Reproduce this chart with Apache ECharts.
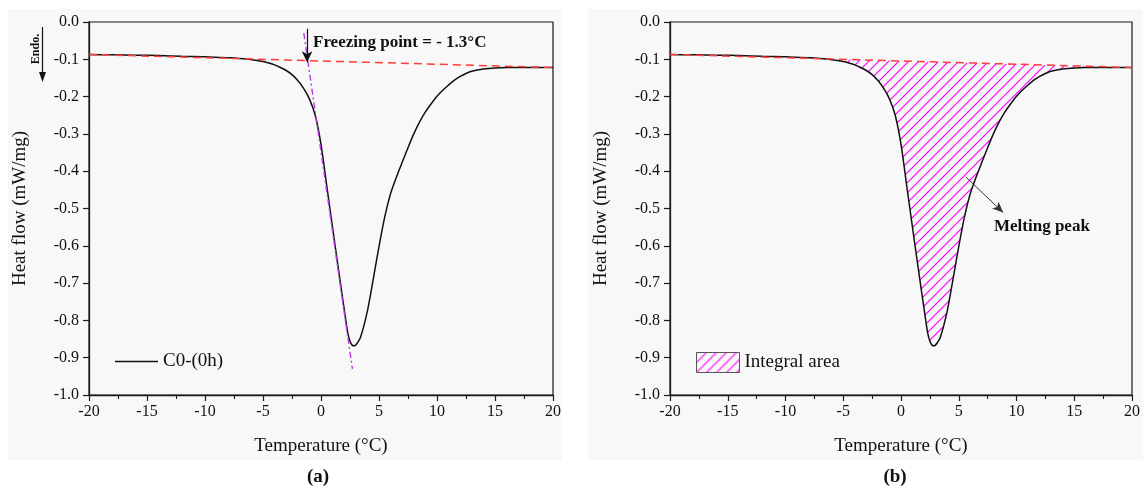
<!DOCTYPE html>
<html>
<head>
<meta charset="utf-8">
<script src="https://cdn.jsdelivr.net/npm/echarts@6/dist/echarts.min.js"></script>
<style>
  html, body { margin: 0; padding: 0; background: #ffffff; }
  #chart { width: 1143px; height: 491px; }
</style>
</head>
<body>
<div id="chart"></div>
<script>
// DSC scan of sample C0-(0h): temperature (°C) and heat flow (mW/mg)
const temperature = [-20, -18, -16, -14, -12, -10, -8, -7, -6, -5, -4.5, -4, -3.5, -3, -2.5, -2, -1.5, -1, -0.5,
  0, 0.5, 1, 1.5, 2, 2.3, 2.5, 2.7, 2.9, 3.1, 3.4, 4, 4.5, 5, 5.5, 6, 6.5, 7, 7.5, 8, 8.5, 9, 9.5, 10,
  10.5, 11, 11.5, 12, 12.5, 13, 14, 15, 16, 17, 18, 19, 20];
const heatFlow = [-0.087, -0.088, -0.089, -0.090, -0.092, -0.093, -0.096, -0.098, -0.101, -0.106, -0.110, -0.115,
  -0.122, -0.130, -0.141, -0.157, -0.178, -0.206, -0.250,
  -0.328, -0.440, -0.552, -0.662, -0.770, -0.832, -0.856, -0.867, -0.868, -0.862, -0.846, -0.775, -0.690, -0.602,
  -0.522, -0.460, -0.416, -0.376, -0.337, -0.300, -0.268, -0.241, -0.219, -0.199,
  -0.183, -0.169, -0.156, -0.146, -0.138, -0.132, -0.126, -0.123, -0.122, -0.122, -0.122, -0.122, -0.122];

// Linear baseline drawn under the peak
const baselineT = [-20, 20];
const baselineV = [-0.087, -0.122];

// Tangent to the leading edge of the peak (onset construction)
const tangentT = [-1.48, 2.71];
const tangentV = [-0.03, -0.93];

// Arrow marking the onset (freezing point)
const onsetArrowT = [-1.2, -1.2];
const onsetArrowV = [-0.018, -0.108];

// Arrow pointing at the melting peak
const peakArrowT = [5.6, 8.85];
const peakArrowV = [-0.415, -0.511];

// Axis ranges and tick steps
const xRange = [-20, 20];
const xStep = 5;
const yRange = [-1.0, 0.0];
const yStep = 0.1;

const FONT = "'Liberation Serif', 'Times New Roman', serif";

function baselineAt(t) {
  const f = (t - baselineT[0]) / (baselineT[1] - baselineT[0]);
  return baselineV[0] + f * (baselineV[1] - baselineV[0]);
}

// Diagonal magenta hatch used for the integrated area
function makeHatch() {
  const s = 10;
  const c = document.createElement('canvas');
  c.width = s; c.height = s;
  const g = c.getContext('2d');
  g.strokeStyle = '#ff00ff';
  g.lineWidth = 1.2;
  g.beginPath();
  g.moveTo(-2, s + 2); g.lineTo(s + 2, -2);
  g.moveTo(-2, 2); g.lineTo(2, -2);
  g.moveTo(s - 2, s + 2); g.lineTo(s + 2, s - 2);
  g.stroke();
  return { image: c, repeat: 'repeat' };
}
const hatch = makeHatch();

const curve = temperature.map((t, i) => [t, heatFlow[i]]);
const baseline = baselineT.map((t, i) => [t, baselineV[i]]);
const tangent = tangentT.map((t, i) => [t, tangentV[i]]);

function xAxis(gridIndex) {
  return {
    type: 'value', gridIndex, min: xRange[0], max: xRange[1], interval: xStep,
    name: 'Temperature (°C)', nameLocation: 'middle', nameGap: 42,
    nameTextStyle: { fontFamily: FONT, fontSize: 19, color: '#111' },
    axisLine: { onZero: false, lineStyle: { color: '#1a1a1a', width: 1.3 } },
    axisTick: { length: 6, lineStyle: { color: '#1a1a1a', width: 1.2 } },
    minorTick: { show: true, splitNumber: 2, length: 4, lineStyle: { color: '#1a1a1a', width: 1.1 } },
    axisLabel: { fontFamily: FONT, fontSize: 16, color: '#111', margin: 9 },
    splitLine: { show: false }
  };
}
function yAxis(gridIndex) {
  return {
    type: 'value', gridIndex, min: yRange[0], max: yRange[1], interval: yStep,
    name: 'Heat flow (mW/mg)', nameLocation: 'middle', nameGap: 59,
    nameTextStyle: { fontFamily: FONT, fontSize: 19, color: '#111' },
    axisLine: { onZero: false, lineStyle: { color: '#1a1a1a', width: 1.3 } },
    axisTick: { length: 6, lineStyle: { color: '#1a1a1a', width: 1.2 } },
    axisLabel: { fontFamily: FONT, fontSize: 16, color: '#111', margin: 10,
      formatter: v => v.toFixed(1) },
    splitLine: { show: false }
  };
}

const grid = { show: true, borderColor: '#1a1a1a', borderWidth: 1.2, backgroundColor: 'transparent' };

const chart = echarts.init(document.getElementById('chart'), null, { renderer: 'canvas' });
chart.setOption({
  animation: false,
  backgroundColor: '#ffffff',
  grid: [
    Object.assign({ left: 89, top: 22, width: 464, height: 373 }, grid),
    Object.assign({ left: 670, top: 22, width: 463, height: 373 }, grid)
  ],
  xAxis: [xAxis(0), xAxis(1)],
  yAxis: [yAxis(0), yAxis(1)],
  legend: [
    {
      left: 115, top: 352, padding: 0, itemWidth: 43, itemHeight: 1.6, itemGap: 5,
      textStyle: { fontFamily: FONT, fontSize: 19, color: '#111' },
      data: [{ name: 'C0-(0h)', icon: 'rect', itemStyle: { color: '#111', borderWidth: 0 } }]
    },
    {
      left: 696, top: 352, padding: 0, itemWidth: 43, itemHeight: 20, itemGap: 5,
      textStyle: { fontFamily: FONT, fontSize: 19, color: '#111' },
      data: [{ name: 'Integral area', icon: 'rect',
        itemStyle: { color: hatch, borderColor: '#555', borderWidth: 1 } }]
    }
  ],
  graphic: [
    // light panel backgrounds
    { type: 'rect', z: -10, shape: { x: 8, y: 9, width: 554, height: 451 }, style: { fill: '#f8f8f8' } },
    { type: 'rect', z: -10, shape: { x: 588, y: 9, width: 555, height: 451 }, style: { fill: '#f8f8f8' } },
    // panel labels
    { type: 'text', x: 318, y: 477, style: { text: '(a)', font: 'bold 19px ' + FONT, fill: '#111',
      align: 'center', verticalAlign: 'middle' } },
    { type: 'text', x: 895, y: 477, style: { text: '(b)', font: 'bold 19px ' + FONT, fill: '#111',
      align: 'center', verticalAlign: 'middle' } },
    // endotherm direction marker
    { type: 'text', x: 36, y: 49, rotation: Math.PI / 2, style: { text: 'Endo.', font: 'bold 12px ' + FONT,
      fill: '#111', align: 'center', verticalAlign: 'middle' } },
    { type: 'line', shape: { x1: 42.5, y1: 27, x2: 42.5, y2: 74 }, style: { stroke: '#111', lineWidth: 1.2 } },
    { type: 'polygon', shape: { points: [[39, 72], [46, 72], [42.5, 82]] }, style: { fill: '#111' } },
    // annotations
    { type: 'text', x: 313, y: 43, style: { text: 'Freezing point = - 1.3°C', font: 'bold 17px ' + FONT,
      fill: '#111', align: 'left', verticalAlign: 'middle' } },
    { type: 'text', x: 994, y: 227, style: { text: 'Melting peak', font: 'bold 17px ' + FONT,
      fill: '#111', align: 'left', verticalAlign: 'middle' } }
  ],
  series: [
    // (a) onset construction
    {
      name: 'Baseline (a)', type: 'line', xAxisIndex: 0, yAxisIndex: 0, data: baseline,
      symbol: 'none', z: 3, lineStyle: { color: '#ff3b3b', width: 1.5, type: [8, 5] }
    },
    {
      name: 'C0-(0h)', type: 'line', xAxisIndex: 0, yAxisIndex: 0, data: curve,
      symbol: 'none', smooth: 0.25, z: 2,
      lineStyle: { color: '#111', width: 1.5 }, itemStyle: { color: '#111' }
    },
    {
      name: 'Tangent', type: 'line', xAxisIndex: 0, yAxisIndex: 0, data: tangent,
      symbol: 'none', z: 4, lineStyle: { color: '#b43cdc', width: 1.4, type: [6, 3, 2, 3] },
      markLine: {
        silent: true, symbol: ['none', 'arrow'], symbolSize: [8, 11],
        label: { show: false },
        lineStyle: { color: '#111', width: 1.2, type: 'solid' },
        data: [[{ coord: [onsetArrowT[0], onsetArrowV[0]] }, { coord: [onsetArrowT[1], onsetArrowV[1]] }]]
      }
    },
    // (b) integrated peak area
    {
      name: 'Integral area', type: 'custom', xAxisIndex: 1, yAxisIndex: 1, z: 1,
      itemStyle: { color: hatch },
      data: [[0, 0]],
      renderItem: function (params, api) {
        const pts = [];
        const ts = temperature.filter(t => t >= -8);
        ts.forEach(t => pts.push(api.coord([t, heatFlow[temperature.indexOf(t)]])));
        ts.slice().reverse().forEach(t => pts.push(api.coord([t, baselineAt(t)])));
        return { type: 'polygon', shape: { points: pts, smooth: 0 }, style: { fill: hatch, stroke: null } };
      }
    },
    {
      name: 'Curve (b)', type: 'line', xAxisIndex: 1, yAxisIndex: 1, data: curve,
      symbol: 'none', smooth: 0.25, z: 2,
      lineStyle: { color: '#111', width: 1.5 },
      markLine: {
        silent: true, symbol: ['none', 'arrow'], symbolSize: [7, 11],
        label: { show: false },
        lineStyle: { color: '#333', width: 1, type: 'solid' },
        data: [[{ coord: [peakArrowT[0], peakArrowV[0]] }, { coord: [peakArrowT[1], peakArrowV[1]] }]]
      }
    },
    {
      name: 'Baseline (b)', type: 'line', xAxisIndex: 1, yAxisIndex: 1, data: baseline,
      symbol: 'none', z: 3, lineStyle: { color: '#ff3b3b', width: 1.5, type: [8, 5] }
    }
  ]
});
</script>
</body>
</html>
